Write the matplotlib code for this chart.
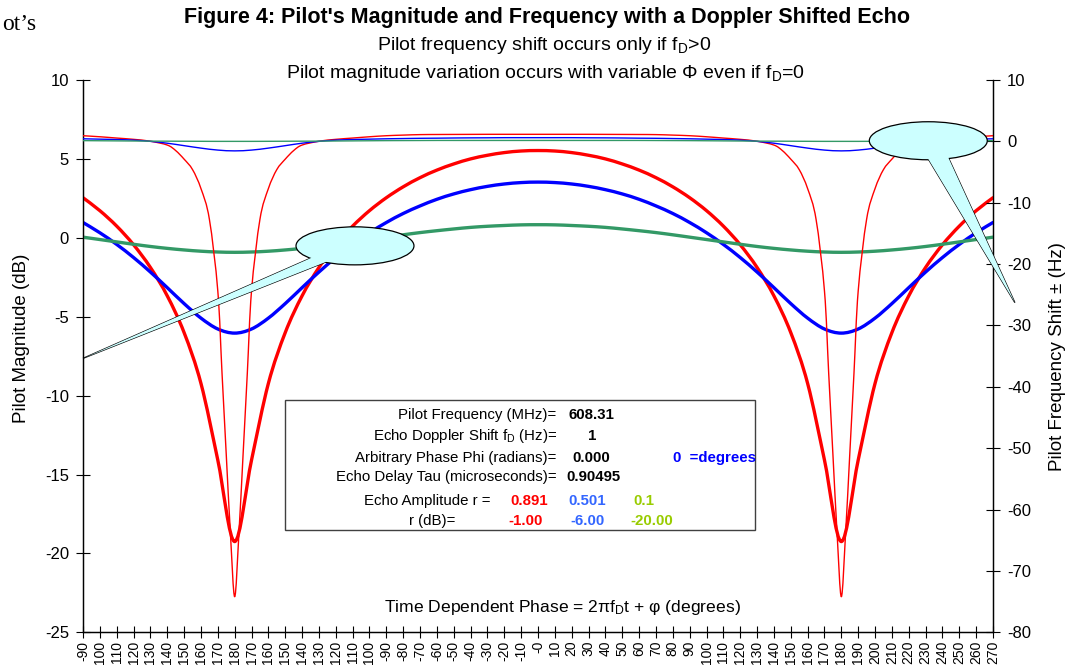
import matplotlib
matplotlib.use('Agg')
import matplotlib.pyplot as plt
from matplotlib.patches import Ellipse, Polygon, Rectangle, PathPatch
from matplotlib.path import Path

# phase axis (degrees) and the odd category labels used on the original chart
phase = list(range(-270, 271, 10))
phase_labels = ['-90', '100', '110', '120', '130', '140', '150', '160', '170', '180',
                '170', '160', '150', '140', '130', '120', '110', '100',
                '-90', '-80', '-70', '-60', '-50', '-40', '-30', '-20', '-10', '-0',
                '10', '20', '30', '40', '50', '60', '70', '80', '90', '100', '110',
                '120', '130', '140', '150', '160', '170', '180', '190', '200', '210',
                '220', '230', '240', '250', '260', '270']

# pilot magnitude (dB), one series per echo amplitude
mag_r0891 = [2.54, 1.72, 0.74, -0.44, -1.88, -3.68, -6.01, -9.23, -14.09, -19.25,
             -14.09, -9.23, -6.01, -3.68, -1.88, -0.44, 0.74, 1.72, 2.54,
             3.23, 3.81, 4.29, 4.68, 5.00, 5.23, 5.40, 5.50, 5.53,
             5.50, 5.40, 5.23, 5.00, 4.68, 4.29, 3.81, 3.23, 2.54,
             1.72, 0.74, -0.44, -1.88, -3.68, -6.01, -9.23, -14.09, -19.25,
             -14.09, -9.23, -6.01, -3.68, -1.88, -0.44, 0.74, 1.72, 2.54]
mag_r0501 = [0.97, 0.32, -0.42, -1.25, -2.17, -3.16, -4.17, -5.09, -5.78, -6.04,
             -5.78, -5.09, -4.17, -3.16, -2.17, -1.25, -0.42, 0.32, 0.97,
             1.54, 2.02, 2.44, 2.78, 3.05, 3.26, 3.41, 3.50, 3.53,
             3.50, 3.41, 3.26, 3.05, 2.78, 2.44, 2.02, 1.54, 0.97,
             0.32, -0.42, -1.25, -2.17, -3.16, -4.17, -5.09, -5.78, -6.04,
             -5.78, -5.09, -4.17, -3.16, -2.17, -1.25, -0.42, 0.32, 0.97]
mag_r01 = [0.04, -0.11, -0.26, -0.41, -0.55, -0.67, -0.77, -0.85, -0.90, -0.92,
           -0.90, -0.85, -0.77, -0.67, -0.55, -0.41, -0.26, -0.11, 0.04,
           0.19, 0.33, 0.45, 0.56, 0.66, 0.73, 0.78, 0.82, 0.83,
           0.82, 0.78, 0.73, 0.66, 0.56, 0.45, 0.33, 0.19, 0.04,
           -0.11, -0.26, -0.41, -0.55, -0.67, -0.77, -0.85, -0.90, -0.92,
           -0.90, -0.85, -0.77, -0.67, -0.55, -0.41, -0.26, -0.11, 0.04]

# pilot frequency shift (Hz)
freq_r0501 = [0.42, 0.36, 0.30, 0.20, 0.00, -0.30, -0.70, -1.10, -1.42, -1.55,
              -1.42, -1.10, -0.70, -0.30, 0.00, 0.20, 0.30, 0.36, 0.42,
              0.46, 0.50, 0.52, 0.55, 0.57, 0.58, 0.60, 0.60, 0.60,
              0.60, 0.60, 0.58, 0.57, 0.55, 0.52, 0.50, 0.46, 0.42,
              0.36, 0.30, 0.20, 0.00, -0.30, -0.70, -1.10, -1.42, -1.55,
              -1.42, -1.10, -0.70, -0.30, 0.00, 0.20, 0.30, 0.36, 0.42]
freq_r01 = [0.12, 0.10, 0.08, 0.06, 0.04, 0.03, 0.02, 0.01, 0.00, 0.00,
            0.00, 0.01, 0.02, 0.03, 0.04, 0.06, 0.08, 0.10, 0.12,
            0.13, 0.14, 0.15, 0.15, 0.15, 0.15, 0.15, 0.15, 0.15,
            0.15, 0.15, 0.15, 0.15, 0.15, 0.15, 0.14, 0.13, 0.12,
            0.10, 0.08, 0.06, 0.04, 0.03, 0.02, 0.01, 0.00, 0.00,
            0.00, 0.01, 0.02, 0.03, 0.04, 0.06, 0.08, 0.10, 0.12]
# the r=0.891 shift is read more densely around the sharp dips
phase_r0891 = [-270, -260, -250, -240, -230, -220, -215, -210, -205, -200, -195, -190,
               -187.5, -185, -182.5, -180, -177.5, -175, -172.5,
               -170, -165, -160, -155, -150, -145, -140,
               -130, -120, -110, -100, -90, -80, -70, -60, -50, -40, -30, -20, -10, 0,
               10, 20, 30, 40, 50, 60, 70, 80, 90, 100, 110, 120, 130,
               140, 145, 150, 155, 160, 165, 170,
               172.5, 175, 177.5, 180, 182.5, 185, 187.5,
               190, 195, 200, 205, 210, 215, 220, 230, 240, 250, 260, 270]
freq_r0891 = [0.92, 0.75, 0.54, 0.33, 0.02, -0.6, -1.5, -2.9, -4.6, -7.7, -12.7, -24.4,
              -37.8, -51.0, -64.0, -74.2, -64.0, -51.0, -37.8,
              -24.4, -12.7, -7.7, -4.6, -2.9, -1.5, -0.6,
              0.02, 0.33, 0.54, 0.75, 0.92, 1.02, 1.10, 1.12, 1.13, 1.14, 1.15, 1.15, 1.15, 1.15,
              1.15, 1.15, 1.15, 1.14, 1.13, 1.12, 1.10, 1.02, 0.92, 0.75, 0.54, 0.33, 0.02,
              -0.6, -1.5, -2.9, -4.6, -7.7, -12.7, -24.4,
              -37.8, -51.0, -64.0, -74.2, -64.0, -51.0, -37.8,
              -24.4, -12.7, -7.7, -4.6, -2.9, -1.5, -0.6, 0.02, 0.33, 0.54, 0.75, 0.92]

RED = '#FF0000'
BLUE = '#0000FF'
GREEN = '#339966'
CALLOUT = '#CCFFFF'

plt.rcParams['font.family'] = ['Liberation Sans', 'DejaVu Sans']
plt.rcParams['axes.unicode_minus'] = False
plt.rcParams['mathtext.fontset'] = 'custom'
plt.rcParams['mathtext.rm'] = 'Liberation Sans'
plt.rcParams['mathtext.it'] = 'Liberation Sans:italic'
plt.rcParams['mathtext.bf'] = 'Liberation Sans:bold'


def smooth_line(axis, xs, ys, color, lw):
    # Excel style "smoothed line": bezier segments through every data point
    pts = list(zip(xs, ys))
    verts = [pts[0]]
    codes = [Path.MOVETO]
    n = len(pts)
    for i in range(n - 1):
        p0 = pts[i - 1] if i > 0 else pts[i]
        p1 = pts[i]
        p2 = pts[i + 1]
        p3 = pts[i + 2] if i + 2 < n else pts[i + 1]
        c1 = (p1[0] + (p2[0] - p0[0]) / 6, p1[1] + (p2[1] - p0[1]) / 6)
        c2 = (p2[0] - (p3[0] - p1[0]) / 6, p2[1] - (p3[1] - p1[1]) / 6)
        verts += [c1, c2, p2]
        codes += [Path.CURVE4] * 3
    axis.add_patch(PathPatch(Path(verts, codes), fill=False, edgecolor=color, lw=lw,
                             joinstyle='round', capstyle='round', zorder=3))


fig = plt.figure(figsize=(10.78, 6.72), dpi=100)
ax = fig.add_axes([83 / 1078, 39.7 / 672, 910 / 1078, 552.3 / 672])
ax2 = ax.twinx()
ax.set_xlim(-270, 270)
ax.set_ylim(-25, 10)
ax2.set_ylim(-80, 10)

# magnitude curves (left axis)
smooth_line(ax, phase, mag_r0891, RED, 2.4)
smooth_line(ax, phase, mag_r0501, BLUE, 2.4)
smooth_line(ax, phase, mag_r01, GREEN, 2.4)

# frequency shift curves (right axis)
smooth_line(ax2, phase_r0891, freq_r0891, RED, 1.0)
smooth_line(ax2, phase, freq_r0501, BLUE, 1.0)
smooth_line(ax2, phase, freq_r01, GREEN, 1.0)

ax.set_xticks(phase)
ax.set_xticklabels(phase_labels, rotation=90, fontsize=10)
ax.set_yticks(range(-25, 11, 5))
ax2.set_yticks(range(-80, 11, 10))
ax.tick_params(axis='x', direction='inout', length=8, width=0.8, pad=2)
ax.tick_params(axis='y', direction='inout', length=10, width=0.8, labelsize=12, pad=5)
ax2.tick_params(axis='y', direction='inout', length=10, width=0.8, labelsize=12, pad=5)
for a in (ax, ax2):
    a.spines['top'].set_visible(False)
    for s in ('left', 'right', 'bottom'):
        a.spines[s].set_linewidth(0.9)
        a.spines[s].set_color('black')

# titles
fig.text(0.507, 1 - 18 / 672, "Figure 4: Pilot's Magnitude and Frequency with a Doppler Shifted Echo",
         ha='center', va='center', fontsize=15.5, fontweight='bold')
fig.text(0.505, 1 - 45 / 672, r'Pilot frequency shift occurs only if f$_\mathrm{D}$>0',
         ha='center', va='center', fontsize=14)
fig.text(0.506, 1 - 73 / 672, r'Pilot magnitude variation occurs with variable Φ even if f$_\mathrm{D}$=0',
         ha='center', va='center', fontsize=14)
fig.text(0.002, 1 - 25 / 672, 'ot\u2019s', family='Liberation Serif', fontsize=17, va='center')
fig.text(22 / 1078, 1 - 338 / 672, 'Pilot Magnitude (dB)', rotation=90,
         ha='center', va='center', fontsize=13.5)
fig.text(1057 / 1078, 1 - 357 / 672, 'Pilot Frequency Shift \u00b1 (Hz)', rotation=90,
         ha='center', va='center', fontsize=13.5)
ax2.text(0.5264, 0.044, r'Time Dependent Phase = 2πf$_\mathrm{D}$t + φ (degrees)',
         transform=ax.transAxes, ha='center', va='center', fontsize=12.6, zorder=6)

# parameter box
ax2.add_patch(Rectangle((0.222, 0.1852), 0.5165, 0.2354, transform=ax.transAxes,
                        facecolor='white', edgecolor='#404040', lw=1, zorder=5))
box_labels = ['Pilot Frequency (MHz)=', r'Echo Doppler Shift f$_\mathrm{D}$ (Hz)=',
              'Arbitrary Phase Phi (radians)=', 'Echo Delay Tau (microseconds)=']
box_rows = [0.3934, 0.356, 0.3156, 0.2817]
for lab, yy in zip(box_labels, box_rows):
    ax2.text(0.5205, yy, lab, transform=ax.transAxes, ha='right', va='center', fontsize=10.8, zorder=6)
ax2.text(0.533, 0.3934, '608.31', transform=ax.transAxes, va='center', fontsize=10.8,
         fontweight='bold', zorder=6)
ax2.text(0.559, 0.356, '1', transform=ax.transAxes, ha='center', va='center', fontsize=10.8,
         fontweight='bold', zorder=6)
ax2.text(0.538, 0.3156, '0.000', transform=ax.transAxes, va='center', fontsize=10.8,
         fontweight='bold', zorder=6)
ax2.text(0.6484, 0.3156, '0  =degrees', transform=ax.transAxes, va='center', fontsize=10.8,
         fontweight='bold', color=BLUE, zorder=6)
ax2.text(0.5308, 0.2817, '0.90495', transform=ax.transAxes, va='center', fontsize=10.8,
         fontweight='bold', zorder=6)
ax2.text(0.4473, 0.2377, 'Echo Amplitude r =', transform=ax.transAxes, ha='right', va='center',
         fontsize=10.8, zorder=6)
ax2.text(0.4088, 0.2015, 'r (dB)=', transform=ax.transAxes, ha='right', va='center',
         fontsize=10.8, zorder=6)
amp_text = ['0.891', '0.501', '0.1']
amp_db_text = ['-1.00', '-6.00', '-20.00']
amp_colors = [RED, '#3366FF', '#99CC00']
for txt, dtxt, col, x1, x2 in zip(amp_text, amp_db_text, amp_colors,
                                  [0.4692, 0.533, 0.6044], [0.467, 0.5352, 0.6011]):
    ax2.text(x1, 0.2377, txt, transform=ax.transAxes, va='center', fontsize=10.8,
             fontweight='bold', color=col, zorder=6)
    ax2.text(x2, 0.2015, dtxt, transform=ax.transAxes, va='center', fontsize=10.8,
             fontweight='bold', color=col, zorder=6)

# callouts (drawn over the curves)
tail1 = [(-133, -1.2), (-124, -1.45), (-270, -7.64)]
tail2 = [(231, 5.1), (243, 5.2), (283, -4.11)]
for tail, centre in ((tail1, (-108.6, -0.51)), (tail2, (231.6, 6.15))):
    ax2.add_patch(Polygon(tail, closed=True, transform=ax.transData, facecolor=CALLOUT,
                          edgecolor='black', lw=0.9, clip_on=False, zorder=7))
    ax2.add_patch(Ellipse(centre, 70, 2.41, transform=ax.transData, facecolor=CALLOUT,
                          edgecolor='black', lw=0.9, clip_on=False, zorder=7))
    ax2.add_patch(Polygon(tail, closed=True, transform=ax.transData, facecolor=CALLOUT,
                          edgecolor='none', clip_on=False, zorder=7))

ax.set_xlim(-270, 270)
ax.set_ylim(-25, 10)
ax2.set_ylim(-80, 10)

fig.savefig('out.png', dpi=100)
